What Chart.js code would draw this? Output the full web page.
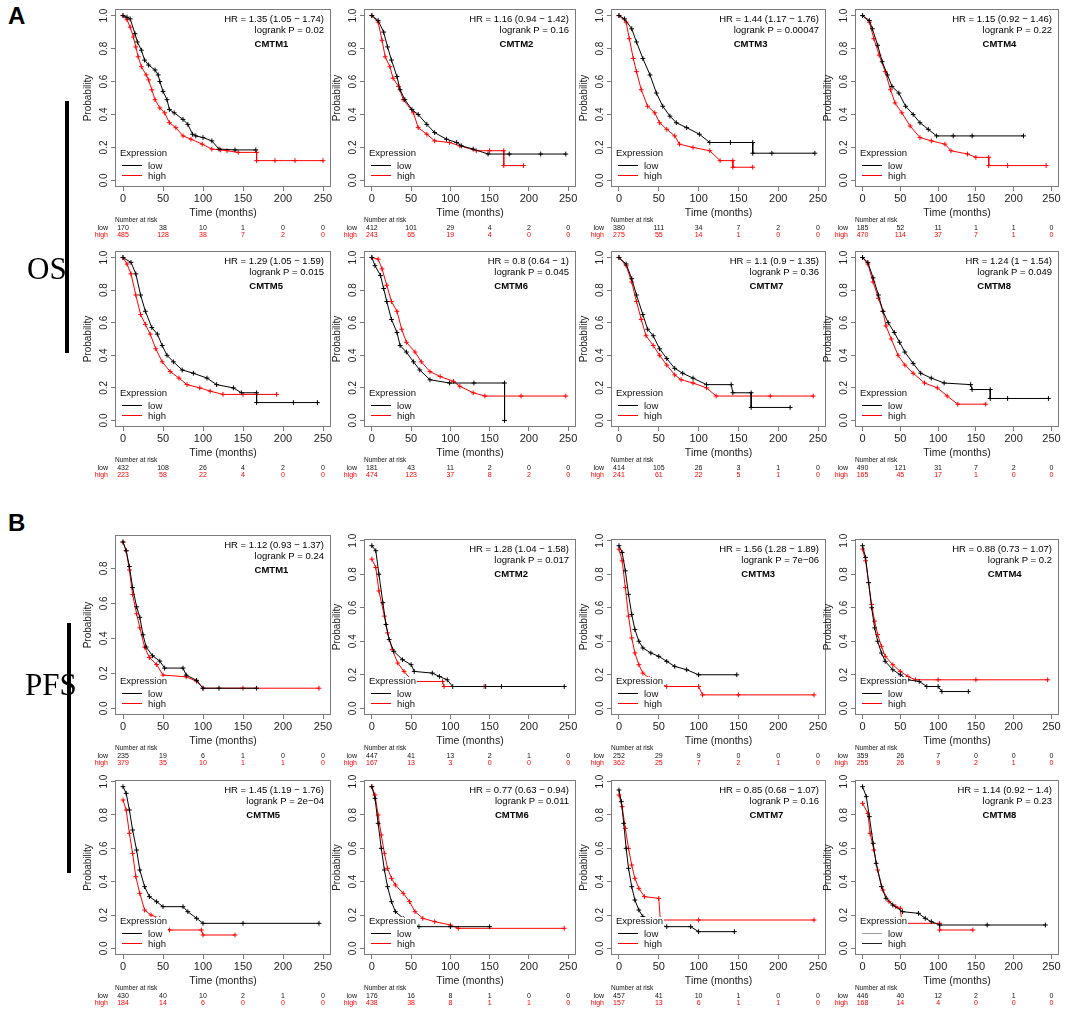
<!DOCTYPE html>
<html><head><meta charset="utf-8">
<script src="https://cdn.jsdelivr.net/npm/chart.js@4.4.0/dist/chart.umd.min.js"></script>
<style>
html,body{margin:0;padding:0;background:#fff;}
#page{position:relative;width:1065px;height:1014px;overflow:hidden;background:#fff;font-family:'Liberation Sans',Arial,sans-serif;}
#page canvas{position:absolute;z-index:1;}
.letter{position:absolute;font:bold 24px/24px 'Liberation Sans',Arial,sans-serif;color:#000;z-index:2;}
.side{position:absolute;font:31px/31px 'Liberation Serif','Times New Roman',serif;color:#000;z-index:2;}
.bar{position:absolute;background:#000;z-index:2;}
</style></head>
<body><div id="page">
<div class="letter" style="left:8px;top:4px">A</div>
<div class="letter" style="left:8px;top:511px">B</div>
<div class="side" style="left:27px;top:253px">OS</div>
<div class="side" style="left:25px;top:669px">PFS</div>
<div class="bar" style="left:65px;top:101px;width:4px;height:252px"></div>
<div class="bar" style="left:67px;top:623px;width:4px;height:250px"></div>
</div>
<script>
// ---------- tick labels / categories ----------
const xTicks = [0, 50, 100, 150, 200, 250];
const yTicks = [0, 0.2, 0.4, 0.6, 0.8, 1.0];
const riskTimes = [0, 50, 100, 150, 200, 250];
const genes = ['CMTM1','CMTM2','CMTM3','CMTM4','CMTM5','CMTM6','CMTM7','CMTM8'];
const osHR = ['HR = 1.35 (1.05 − 1.74)','HR = 1.16 (0.94 − 1.42)','HR = 1.44 (1.17 − 1.76)','HR = 1.15 (0.92 − 1.46)',
              'HR = 1.29 (1.05 − 1.59)','HR = 0.8 (0.64 − 1)','HR = 1.1 (0.9 − 1.35)','HR = 1.24 (1 − 1.54)'];
const osP  = ['logrank P = 0.02','logrank P = 0.16','logrank P = 0.00047','logrank P = 0.22',
              'logrank P = 0.015','logrank P = 0.045','logrank P = 0.36','logrank P = 0.049'];
const pfsHR = ['HR = 1.12 (0.93 − 1.37)','HR = 1.28 (1.04 − 1.58)','HR = 1.56 (1.28 − 1.89)','HR = 0.88 (0.73 − 1.07)',
               'HR = 1.45 (1.19 − 1.76)','HR = 0.77 (0.63 − 0.94)','HR = 0.85 (0.68 − 1.07)','HR = 1.14 (0.92 − 1.4)'];
const pfsP  = ['logrank P = 0.24','logrank P = 0.017','logrank P = 7e−06','logrank P = 0.2',
               'logrank P = 2e−04','logrank P = 0.011','logrank P = 0.16','logrank P = 0.23'];

// ---------- OS survival curves [months, probability] ----------
const os_CMTM1_low  = [[0,1],[5,0.99],[9,0.98],[15,0.89],[18,0.84],[23,0.79],[27,0.73],[32,0.70],[40,0.67],[44,0.64],[46,0.60],[50,0.54],[55,0.49],[58,0.43],[64,0.41],[75,0.37],[81,0.34],[87,0.28],[91,0.27],[100,0.26],[111,0.24],[120,0.19],[140,0.185],[166,0.185]];
const os_CMTM1_high = [[0,1],[5,0.975],[9,0.93],[13,0.87],[16,0.81],[19,0.75],[23,0.69],[29,0.64],[32,0.61],[36,0.55],[40,0.49],[46,0.44],[52,0.41],[58,0.35],[66,0.32],[75,0.27],[85,0.25],[99,0.22],[111,0.19],[122,0.185],[130,0.18],[144,0.17],[167,0.17],[167,0.12],[190,0.12],[215,0.12],[250,0.12]];
const os_CMTM2_low  = [[0,1],[8,0.97],[15,0.9],[20,0.81],[25,0.73],[32,0.63],[36,0.55],[42,0.49],[51,0.43],[59,0.40],[70,0.34],[80,0.29],[95,0.25],[108,0.23],[114,0.21],[129,0.19],[148,0.16],[175,0.16],[215,0.16],[247,0.16]];
const os_CMTM2_high = [[0,1],[8,0.96],[13,0.85],[17,0.75],[23,0.69],[27,0.62],[34,0.57],[40,0.49],[53,0.41],[59,0.32],[70,0.28],[80,0.24],[99,0.23],[112,0.21],[133,0.18],[150,0.18],[168,0.18],[168,0.09],[193,0.09]];
const os_CMTM3_low  = [[0,1],[7,0.98],[16,0.92],[22,0.84],[30,0.74],[39,0.64],[47,0.53],[55,0.45],[64,0.39],[72,0.35],[85,0.32],[101,0.28],[114,0.23],[140,0.23],[168,0.23],[168,0.165],[192,0.165],[246,0.165]];
const os_CMTM3_high = [[0,1],[9,0.96],[13,0.86],[18,0.74],[22,0.66],[28,0.55],[36,0.45],[45,0.41],[51,0.35],[60,0.31],[70,0.27],[76,0.22],[93,0.2],[114,0.18],[127,0.12],[143,0.12],[143,0.08],[168,0.08]];
const os_CMTM4_low  = [[0,1],[9,0.97],[13,0.92],[20,0.82],[26,0.72],[33,0.64],[39,0.57],[48,0.53],[57,0.45],[67,0.40],[76,0.35],[87,0.31],[98,0.27],[120,0.27],[145,0.27],[213,0.27]];
const os_CMTM4_high = [[0,1],[9,0.96],[15,0.86],[22,0.76],[30,0.66],[37,0.55],[43,0.47],[52,0.41],[63,0.33],[76,0.26],[91,0.24],[109,0.22],[117,0.18],[139,0.16],[150,0.14],[167,0.14],[167,0.09],[192,0.09],[243,0.09]];
const os_CMTM5_low  = [[0,1],[10,0.97],[16,0.9],[22,0.77],[28,0.67],[36,0.57],[43,0.53],[49,0.46],[55,0.40],[63,0.36],[74,0.31],[88,0.29],[105,0.26],[117,0.22],[138,0.20],[148,0.17],[167,0.17],[167,0.11],[213,0.11],[243,0.11]];
const os_CMTM5_high = [[0,1],[5,0.96],[10,0.90],[16,0.77],[22,0.65],[28,0.59],[34,0.53],[41,0.44],[49,0.36],[59,0.30],[70,0.26],[80,0.22],[96,0.20],[109,0.18],[125,0.16],[150,0.16],[192,0.16]];
const os_CMTM6_low  = [[0,1],[4,0.95],[11,0.89],[15,0.81],[19,0.73],[25,0.62],[32,0.54],[36,0.46],[44,0.42],[53,0.36],[61,0.31],[74,0.25],[99,0.23],[130,0.23],[169,0.23],[169,0]];
const os_CMTM6_high = [[0,1],[8,0.99],[13,0.93],[19,0.83],[25,0.73],[32,0.67],[38,0.56],[44,0.48],[55,0.42],[63,0.36],[74,0.30],[87,0.27],[104,0.24],[112,0.21],[129,0.17],[144,0.15],[190,0.15],[247,0.15]];
const os_CMTM7_low  = [[0,1],[9,0.96],[16,0.87],[22,0.77],[30,0.65],[36,0.56],[43,0.52],[51,0.44],[60,0.38],[70,0.32],[80,0.29],[93,0.26],[110,0.22],[141,0.22],[143,0.17],[166,0.17],[166,0.08],[215,0.08]];
const os_CMTM7_high = [[0,1],[9,0.95],[16,0.85],[22,0.73],[28,0.62],[34,0.52],[43,0.46],[51,0.40],[60,0.34],[70,0.28],[78,0.25],[93,0.23],[110,0.20],[122,0.15],[190,0.15],[244,0.15]];
const os_CMTM8_low  = [[0,1],[7,0.97],[14,0.875],[21,0.77],[27,0.67],[34,0.6],[42,0.54],[49,0.48],[56,0.42],[67,0.35],[77,0.29],[91,0.26],[108,0.23],[143,0.22],[145,0.19],[169,0.19],[169,0.135],[192,0.135],[246,0.135]];
const os_CMTM8_high = [[0,1],[7,0.96],[14,0.85],[21,0.75],[27,0.67],[31,0.58],[38,0.5],[47,0.40],[56,0.34],[67,0.29],[82,0.23],[99,0.20],[112,0.15],[126,0.10],[163,0.10]];

// ---------- PFS survival curves [months, probability] ----------
const pfs_CMTM1_low  = [[0,0.95],[4,0.9],[8,0.81],[12,0.69],[17,0.58],[21,0.52],[25,0.42],[29,0.35],[37,0.30],[46,0.27],[52,0.23],[75,0.23],[79,0.19],[92,0.16],[100,0.115],[120,0.115],[167,0.115]];
const pfs_CMTM1_high = [[0,0.95],[4,0.9],[8,0.79],[12,0.65],[17,0.54],[21,0.46],[27,0.35],[33,0.29],[42,0.25],[50,0.19],[79,0.18],[92,0.155],[100,0.115],[150,0.115],[245,0.115]];
const pfs_CMTM2_low  = [[0,0.97],[5,0.94],[9,0.80],[14,0.63],[18,0.5],[22,0.41],[28,0.34],[39,0.29],[50,0.26],[54,0.22],[77,0.21],[86,0.19],[96,0.17],[103,0.13],[145,0.13],[165,0.13],[245,0.13]];
const pfs_CMTM2_high = [[0,0.89],[5,0.84],[9,0.70],[16,0.55],[20,0.45],[26,0.35],[33,0.27],[41,0.22],[52,0.16],[90,0.16],[92,0.13],[143,0.13]];
const pfs_CMTM3_low  = [[0,0.97],[4,0.93],[8,0.82],[12,0.68],[16,0.56],[20,0.47],[25,0.40],[30,0.36],[40,0.33],[50,0.31],[60,0.28],[70,0.25],[85,0.23],[100,0.20],[148,0.20]];
const pfs_CMTM3_high = [[0,0.95],[4,0.88],[8,0.72],[12,0.55],[16,0.42],[20,0.33],[25,0.26],[30,0.21],[38,0.18],[50,0.15],[60,0.13],[100,0.13],[105,0.08],[150,0.08],[245,0.08]];
const pfs_CMTM4_low  = [[0,0.97],[4,0.9],[8,0.75],[12,0.6],[16,0.48],[20,0.4],[25,0.33],[30,0.28],[40,0.23],[50,0.2],[60,0.17],[75,0.16],[85,0.13],[100,0.13],[105,0.1],[140,0.1]];
const pfs_CMTM4_high = [[0,0.95],[4,0.88],[8,0.75],[12,0.62],[16,0.52],[20,0.44],[25,0.37],[30,0.31],[40,0.26],[50,0.22],[60,0.19],[70,0.17],[100,0.17],[150,0.17],[245,0.17]];
const pfs_CMTM5_low  = [[0,0.97],[4,0.93],[8,0.83],[12,0.71],[17,0.59],[21,0.47],[27,0.37],[33,0.31],[42,0.28],[50,0.25],[75,0.25],[81,0.22],[92,0.18],[100,0.15],[150,0.15],[245,0.15]];
const pfs_CMTM5_high = [[0,0.89],[4,0.83],[8,0.69],[12,0.57],[16,0.43],[21,0.33],[27,0.23],[35,0.20],[46,0.18],[50,0.13],[58,0.11],[98,0.11],[100,0.08],[140,0.08]];
const pfs_CMTM6_low  = [[0,0.97],[4,0.9],[8,0.75],[12,0.6],[16,0.47],[20,0.37],[25,0.28],[30,0.22],[40,0.18],[50,0.15],[60,0.13],[100,0.13],[150,0.13]];
const pfs_CMTM6_high = [[0,0.97],[4,0.92],[8,0.8],[12,0.68],[16,0.57],[20,0.48],[25,0.42],[30,0.38],[40,0.33],[48,0.28],[55,0.22],[65,0.18],[80,0.16],[100,0.14],[110,0.12],[245,0.12]];
const pfs_CMTM7_low  = [[0,0.95],[3,0.88],[6,0.75],[9,0.6],[12,0.48],[16,0.37],[20,0.29],[25,0.23],[30,0.19],[40,0.16],[50,0.14],[60,0.13],[90,0.13],[100,0.1],[145,0.1]];
const pfs_CMTM7_high = [[0,0.92],[4,0.85],[8,0.72],[12,0.6],[16,0.5],[20,0.42],[25,0.36],[32,0.31],[50,0.30],[52,0.17],[100,0.17],[245,0.17]];
const pfs_CMTM8_low  = [[0,0.97],[5,0.91],[9,0.79],[14,0.63],[18,0.51],[25,0.37],[31,0.30],[40,0.26],[53,0.22],[74,0.21],[83,0.18],[91,0.16],[102,0.14],[165,0.14],[242,0.14]];
const pfs_CMTM8_high = [[0,0.87],[7,0.81],[10,0.69],[15,0.59],[20,0.47],[27,0.35],[35,0.28],[44,0.25],[50,0.24],[52,0.15],[102,0.15],[102,0.11],[146,0.11]];

// ---------- Number at risk (at 0,50,100,150,200,250 months) ----------
const osRisk_low  = [[170,38,10,1,0,0],[412,101,29,4,2,0],[380,111,34,7,2,0],[185,52,11,1,1,0],[432,108,26,4,2,0],[181,43,11,2,0,0],[414,105,26,3,1,0],[490,121,31,7,2,0]];
const osRisk_high = [[485,128,38,7,2,0],[243,65,19,4,0,0],[275,55,14,1,0,0],[470,114,37,7,1,0],[223,58,22,4,0,0],[474,123,37,8,2,0],[241,61,22,5,1,0],[165,45,17,1,0,0]];
const pfsRisk_low  = [[235,19,6,1,0,0],[447,41,13,2,1,0],[252,29,9,0,0,0],[359,26,7,0,0,0],[430,40,10,2,1,0],[176,16,8,1,0,0],[457,41,10,1,0,0],[446,40,12,2,1,0]];
const pfsRisk_high = [[379,35,10,1,1,0],[167,13,3,0,0,0],[362,25,7,2,1,0],[255,26,9,2,1,0],[184,14,6,0,0,0],[438,38,8,1,1,0],[157,13,6,1,1,0],[168,14,4,0,0,0]];

const osLow  = [os_CMTM1_low,os_CMTM2_low,os_CMTM3_low,os_CMTM4_low,os_CMTM5_low,os_CMTM6_low,os_CMTM7_low,os_CMTM8_low];
const osHigh = [os_CMTM1_high,os_CMTM2_high,os_CMTM3_high,os_CMTM4_high,os_CMTM5_high,os_CMTM6_high,os_CMTM7_high,os_CMTM8_high];
const pfsLow  = [pfs_CMTM1_low,pfs_CMTM2_low,pfs_CMTM3_low,pfs_CMTM4_low,pfs_CMTM5_low,pfs_CMTM6_low,pfs_CMTM7_low,pfs_CMTM8_low];
const pfsHigh = [pfs_CMTM1_high,pfs_CMTM2_high,pfs_CMTM3_high,pfs_CMTM4_high,pfs_CMTM5_high,pfs_CMTM6_high,pfs_CMTM7_high,pfs_CMTM8_high];

// ---------- layout ----------
const FONT = "'Liberation Sans', Arial, sans-serif";
const colL = [115, 364, 611, 855], colR = [331, 576, 826, 1059];
const rowT = [9, 251, 539, 780], rowB = [187, 427, 715, 955];
const BOX = '#7a7a7a';
const info = new Map();

const kmPlugin = {
  id: 'km',
  afterDatasetsDraw(chart) {
    const o = info.get(chart.canvas);
    const {ctx, chartArea: a, scales: {x, y}} = chart;
    ctx.save();
    ctx.textBaseline = 'middle';
    // legend (white background)
    ctx.fillStyle = '#fff';
    ctx.fillRect(a.left + 1, a.bottom - 38, 52, 36);
    ctx.fillStyle = '#111';
    ctx.font = `9.5px ${FONT}`;
    ctx.textAlign = 'left';
    ctx.fillText('Expression', a.left + 5, a.bottom - 33.5);
    ctx.fillText('low', a.left + 33, a.bottom - 21);
    ctx.fillText('high', a.left + 33, a.bottom - 11);
    ctx.lineWidth = 1;
    ctx.beginPath(); ctx.strokeStyle = o.legLow;
    ctx.moveTo(a.left + 7, a.bottom - 21.5); ctx.lineTo(a.left + 27, a.bottom - 21.5); ctx.stroke();
    ctx.beginPath(); ctx.strokeStyle = o.legHigh;
    ctx.moveTo(a.left + 7, a.bottom - 11.5); ctx.lineTo(a.left + 27, a.bottom - 11.5); ctx.stroke();
    // box
    ctx.strokeStyle = BOX;
    ctx.strokeRect(a.left + 0.5, a.top + 0.5, a.right - a.left - 1, a.bottom - a.top - 1);
    // y tick labels (rotated as in R)
    ctx.fillStyle = '#222';
    ctx.font = `10px ${FONT}`;
    ctx.textAlign = 'center';
    yTicks.forEach(v => {
      if (v > y.max) return;
      const py = y.getPixelForValue(v);
      ctx.save(); ctx.translate(a.left - 11, py); ctx.rotate(-Math.PI / 2);
      ctx.fillText(v.toFixed(1), 0, 0); ctx.restore();
    });
    // axis titles
    ctx.save(); ctx.translate(a.left - 27, (a.top + a.bottom) / 2); ctx.rotate(-Math.PI / 2);
    ctx.font = `10px ${FONT}`; ctx.fillText('Probability', 0, 0); ctx.restore();
    ctx.font = `10.5px ${FONT}`;
    ctx.fillText('Time (months)', (a.left + a.right) / 2, a.bottom + 26);
    // HR, logrank, gene
    ctx.fillStyle = '#000';
    ctx.font = `9.5px ${FONT}`;
    ctx.textAlign = 'right';
    ctx.fillText(o.hr, a.right - 7, a.top + 10);
    ctx.fillText(o.p, a.right - 7, a.top + 21.5);
    const pw = ctx.measureText(o.p).width;
    ctx.font = `bold 9.5px ${FONT}`;
    ctx.textAlign = 'left';
    ctx.fillText(o.gene, a.right - 7 - pw, a.top + 35);
    // number at risk table
    ctx.font = `6.5px ${FONT}`;
    ctx.fillStyle = '#111';
    ctx.fillText('Number at risk', a.left, a.bottom + 33);
    ctx.font = `7px ${FONT}`;
    ctx.textAlign = 'right';
    ctx.fillText('low', a.left - 7, a.bottom + 41);
    ctx.fillStyle = '#f00';
    ctx.fillText('high', a.left - 7, a.bottom + 48);
    ctx.textAlign = 'center';
    riskTimes.forEach((t, k) => {
      const px = x.getPixelForValue(t);
      ctx.fillStyle = '#111'; ctx.fillText(String(o.riskLow[k]), px, a.bottom + 41);
      ctx.fillStyle = '#f00'; ctx.fillText(String(o.riskHigh[k]), px, a.bottom + 48);
    });
    ctx.restore();
  }
};

const page = document.getElementById('page');
const toXY = arr => arr.map(([t, s]) => ({x: t, y: s}));

for (let i = 0; i < 16; i++) {
  const isOS = i < 8, g = i % 8, row = Math.floor(i / 4), col = i % 4;
  const bl = colL[col], br = colR[col];
  const bt = (i === 8) ? 535 : rowT[row], bb = rowB[row];
  const yMin = (i === 8) ? -0.038 : -0.04;
  const yMax = isOS ? 1.04 : (i === 8 ? 0.99 : 1.01);
  const cl = bl - 62, ct = bt - 8, cw = br + 6 - cl, ch = bb + 54 - ct;
  const cv = document.createElement('canvas');
  cv.width = cw; cv.height = ch;
  cv.style.left = cl + 'px'; cv.style.top = ct + 'px';
  cv.style.width = cw + 'px'; cv.style.height = ch + 'px';
  page.appendChild(cv);
  info.set(cv, {
    hr: isOS ? osHR[g] : pfsHR[g], p: isOS ? osP[g] : pfsP[g], gene: genes[g],
    riskLow: isOS ? osRisk_low[g] : pfsRisk_low[g], riskHigh: isOS ? osRisk_high[g] : pfsRisk_high[g],
    legLow: (i === 15) ? '#9a9a9a' : '#000000', legHigh: (i === 15) ? '#222222' : '#ff0000'
  });
  const low = isOS ? osLow[g] : pfsLow[g];
  const high = isOS ? osHigh[g] : pfsHigh[g];
  const common = {stepped: false, borderWidth: 1, fill: false, pointStyle: 'cross',
                  pointRadius: 2.4, pointBorderWidth: 1, tension: 0};
  const lowCol = '#000', highCol = '#ff0000';
  new Chart(cv, {
    type: 'line',
    data: {datasets: [
      Object.assign({label: 'low', data: toXY(low), borderColor: lowCol, pointBorderColor: lowCol, backgroundColor: lowCol}, common),
      Object.assign({label: 'high', data: toXY(high), borderColor: highCol, pointBorderColor: highCol, backgroundColor: highCol}, common)
    ]},
    options: {
      responsive: false, animation: false, devicePixelRatio: 1,
      layout: {padding: {top: bt - ct, right: 6, left: 0, bottom: 0}},
      plugins: {legend: {display: false}, tooltip: {enabled: false}},
      scales: {
        x: {type: 'linear', min: -10, max: 260,
            afterBuildTicks: s => { s.ticks = xTicks.map(v => ({value: v})); },
            afterFit: s => { s.height = ch - (bb - ct); },
            grid: {drawOnChartArea: false, drawTicks: true, tickLength: 4, color: BOX},
            border: {display: false},
            ticks: {color: '#222', font: {size: 11, family: FONT}, padding: 1, maxRotation: 0, minRotation: 0, autoSkip: false}},
        y: {type: 'linear', min: yMin, max: yMax,
            afterBuildTicks: s => { s.ticks = yTicks.filter(v => v <= yMax).map(v => ({value: v})); },
            afterFit: s => { s.width = bl - cl; },
            grid: {drawOnChartArea: false, drawTicks: true, tickLength: 4, color: BOX},
            border: {display: false},
            ticks: {display: false}}
      }
    },
    plugins: [kmPlugin]
  });
}
</script>
</body></html>
